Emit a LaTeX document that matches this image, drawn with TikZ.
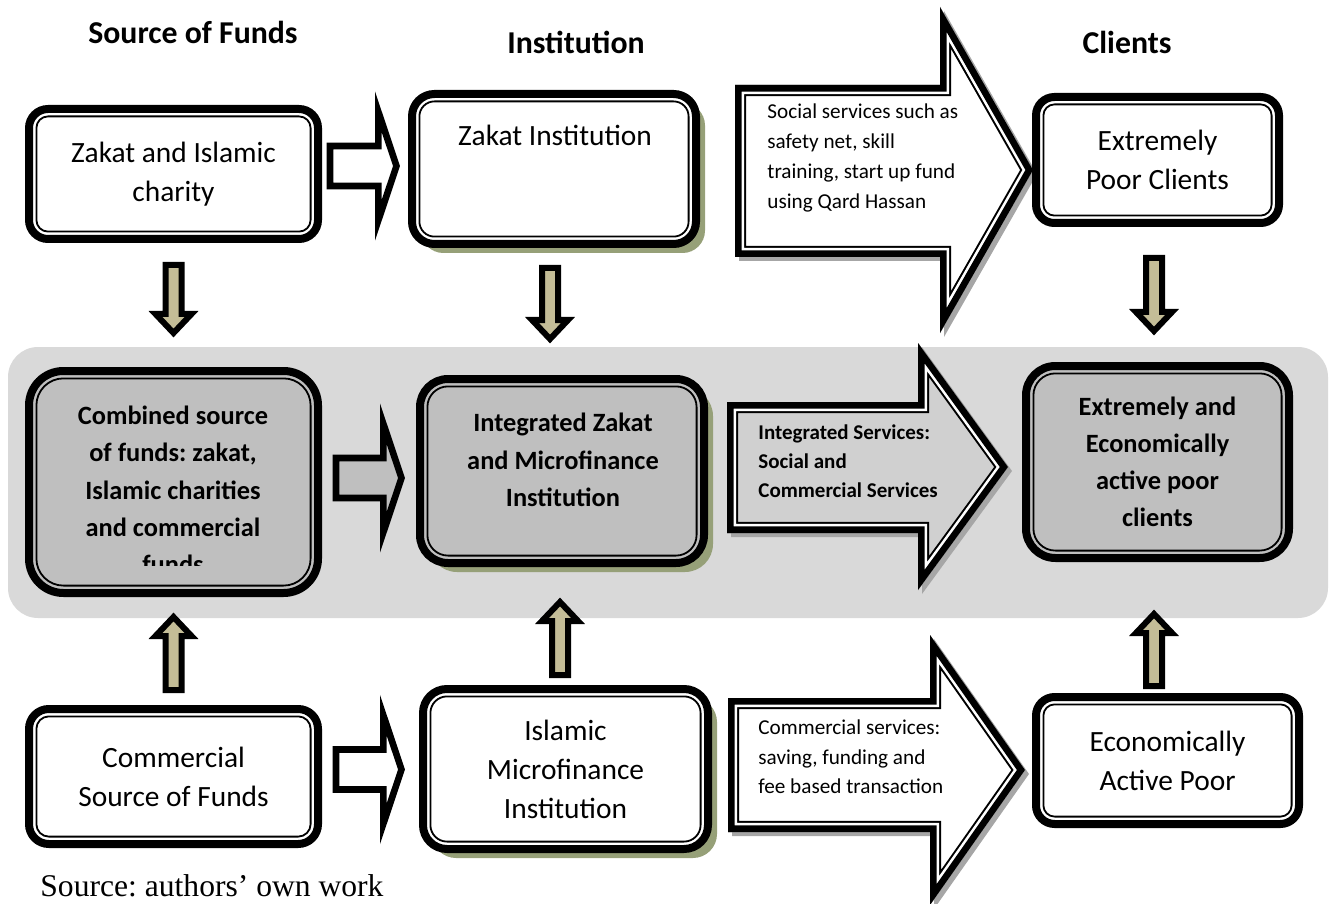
\documentclass[tikz,border=0pt]{standalone}
\usepackage{fontspec}
\setmainfont{Carlito}
\newfontfamily\srcfont{Liberation Serif}
\usetikzlibrary{calc}
\frenchspacing

\definecolor{bandgray}{HTML}{D9D9D9}
\definecolor{boxgray}{HTML}{BFBFBF}
\definecolor{svcgray}{HTML}{D0D0D0}
\definecolor{tanfill}{HTML}{C4BD97}
\definecolor{oliveshade}{RGB}{150,160,120}

\tikzset{
  colhead/.style={font=\bfseries\fontsize{15.9}{19}\selectfont},
  boxtext/.style={font=\fontsize{14.7}{19.5}\selectfont, align=center},
  boldtext/.style={font=\bfseries\fontsize{13.2}{18.6}\selectfont, align=center},
  svctext/.style={font=\fontsize{10.6}{15}\selectfont, align=left, anchor=west, inner sep=0pt},
  fundbox/.style={draw, fill=white, line width=4pt, rounded corners=#1pt, boxtext,
    path picture={\pgfmathsetmacro\innerr{#1-3.7}
      \draw[line width=.9pt, rounded corners=\innerr pt]
        ([shift={(3.7pt,3.7pt)}]path picture bounding box.south west) rectangle
        ([shift={(-3.7pt,-3.7pt)}]path picture bounding box.north east);}},
  shadowed/.style={preaction={fill=oliveshade, transform canvas={shift={(4.5pt,-4.5pt)}}}},
  % block arrow between two points
  ba shaft/.store in=\bashaft, ba head/.store in=\bahead, ba len/.store in=\balen,
  blockarrow/.style={draw, line join=miter, to path={
    ($(\tikztostart)!\bashaft!90:(\tikztotarget)$)
    -- ($(\tikztotarget)!\balen!(\tikztostart)!\bashaft!-90:(\tikztostart)$)
    -- ($(\tikztotarget)!\balen!(\tikztostart)!\bahead!-90:(\tikztostart)$)
    -- (\tikztotarget)
    -- ($(\tikztotarget)!\balen!(\tikztostart)!\bahead!90:(\tikztostart)$)
    -- ($(\tikztotarget)!\balen!(\tikztostart)!\bashaft!90:(\tikztostart)$)
    -- ($(\tikztostart)!\bashaft!-90:(\tikztotarget)$) -- cycle}},
  flatarrow/.style={blockarrow, line width=3.3pt, ba shaft=10pt, ba head=27.2pt, ba len=9.1pt, fill=#1},
  tallarrow/.style={blockarrow, line width=3pt, ba shaft=4pt, ba head=9pt, ba len=9.5pt, fill=tanfill},
}

% service arrow: shadow, then thick-thin frame drawn inside the outline
\newcommand{\servicearrow}[2]{%
  \fill[black!35, shift={(4,4)}] #2;
  \begin{scope}
    \clip #2;
    \fill[#1] #2;
    \draw[line width=11.2pt] #2;
    \draw[white, line width=9.2pt] #2;
    \draw[line width=6.6pt] #2;
  \end{scope}}

\begin{document}
\begin{tikzpicture}[x=0.5pt,y=-0.5pt]
\useasboundingbox (0,0) rectangle (1330,904);
% integrated row
\fill[bandgray, rounded corners=15pt] (8,347) rectangle (1328,618);

\node[colhead] (h1) at (193,32) {Source of Funds};
\node[colhead] (h2) at (576,42) {Institution};
\node[colhead] (h3) at (1127,42) {Clients};

% services
\servicearrow{white}{(735,85) -- (940,85) -- (940,7) -- (1033,170) -- (940,333) -- (940,257) -- (735,257) -- cycle}
\servicearrow{svcgray}{(727,402) -- (918,402) -- (918,343) -- (1008,467) -- (918,590) -- (918,533) -- (727,533) -- cycle}
\servicearrow{white}{(728,698) -- (930,698) -- (930,635) -- (1025,770) -- (930,905) -- (930,832) -- (728,832) -- cycle}
\node[svctext] (soc) at (767,158) {Social services such as\\safety net, skill\\training, start up fund\\using Qard Hassan};
\node[svctext, font=\bfseries\fontsize{10.5}{14.5}\selectfont] (integ) at (758,461) {Integrated Services:\\Social and\\Commercial Services};
\node[svctext, font=\fontsize{10.6}{14.7}\selectfont] (comm) at (758,757) {Commercial services:\\saving, funding and\\fee based transaction};

% boxes
\node[fundbox=9.5, minimum width=144.5pt, minimum height=65pt] (zc) at (173.5,174) {Zakat and Islamic\\charity};
\node[fundbox=11.2, shadowed, minimum width=142pt, minimum height=75pt] (zi) at (554,169) {};
\node[fundbox=9.2, minimum width=121.5pt, minimum height=63pt] (xp) at (1157.5,160) {Extremely\\Poor Clients};
\node[fundbox=17.2, fill=boxgray, minimum width=144.5pt, minimum height=111pt] (cf) at (173.5,482) {};
\node[fundbox=14, fill=boxgray, shadowed, minimum width=142pt, minimum height=92pt] (iz) at (562,471) {};
\node[fundbox=14.7, fill=boxgray, boldtext, minimum width=131.5pt, minimum height=96pt] (ep) at (1157.5,462) {Extremely and\\Economically\\active poor\\clients};
\node[fundbox=9.9, minimum width=144.5pt, minimum height=67.5pt] (cs) at (173.5,776.5) {Commercial\\Source of Funds};
\node[fundbox=12, shadowed, minimum width=142.5pt, minimum height=80pt] (im) at (565.5,769) {Islamic\\Microfinance\\Institution};
\node[fundbox=9.3, minimum width=131.5pt, minimum height=63.5pt] (ap) at (1167.5,760.5) {Economically\\Active Poor};

\node[boxtext] (zi-t) at (555,135) {Zakat Institution};
\node[boldtext] (iz-t) at (563,460) {Integrated Zakat\\and Microfinance\\Institution};
\begin{scope}
  \clip (cf.north west) rectangle ($(cf.south east)+(0,-32)$);
  \node[boldtext] (cf-t) at (173,490) {Combined source\\of funds: zakat,\\Islamic charities\\and commercial\\funds};
\end{scope}

% flows between boxes
\coordinate (ab0) at ($(zc.east)+(8,-8)$);
\coordinate (ab1) at ($(zi.west|-zc.east)+(-11.5,-8)$);
\coordinate (ci0) at ($(cf.east)+(14,-4)$);
\coordinate (ci1) at ($(iz.west|-cf.east)+(-14.5,-4)$);
\coordinate (cm0) at ($(cs.east)+(14,-7)$);
\coordinate (cm1) at ($(im.west|-cs.east)+(-17.5,-7)$);
\draw[flatarrow=white] (ab0) to (ab1);
\draw[flatarrow=boxgray] (ci0) to (ci1);
\draw[flatarrow=white] (cm0) to (cm1);

\coordinate (d10) at ($(zc.south)+(0,22)$);
\coordinate (d11) at ($(zc.south|-cf.north)+(0,-34)$);
\coordinate (d20) at ($(zi.south)+(-4,20)$);
\coordinate (d21) at ($(zi.south|-iz.north)+(-4,-36)$);
\coordinate (d30) at ($(xp.south)+(-3.5,31)$);
\coordinate (d31) at ($(xp.south|-ep.north)+(-3.5,-31)$);
\coordinate (u10) at ($(cs.north)+(0,-15)$);
\coordinate (u11) at ($(cs.north|-cf.south)+(0,20)$);
\coordinate (u20) at ($(im.north)+(-5.5,-10)$);
\coordinate (u21) at ($(im.north|-iz.south)+(-5.5,35)$);
\coordinate (u30) at ($(ap.north)+(-13.5,-7)$);
\coordinate (u31) at ($(ap.north|-ep.south)+(-13.5,52)$);
\foreach \a/\b in {d10/d11, d20/d21, d30/d31, u10/u11, u20/u21, u30/u31}
  \draw[tallarrow] (\a) to (\b);

\node[anchor=base west, inner sep=0pt, font=\srcfont\fontsize{15.8}{19}\selectfont] (src) at (40,896) {Source: authors’ own work};
\end{tikzpicture}
\end{document}
